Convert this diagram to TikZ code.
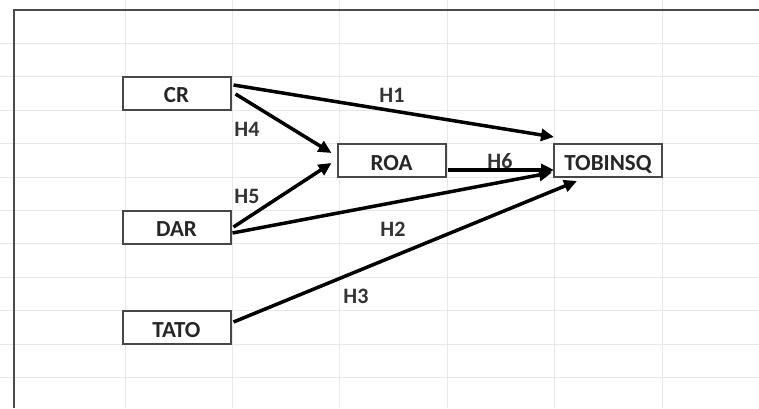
\documentclass[tikz,border=0pt]{standalone}
\usepackage{fontspec}
\setmainfont{Carlito}
\usetikzlibrary{arrows.meta}
\begin{document}
\begin{tikzpicture}[x=1pt,y=-1pt,
 box/.style={draw=black!72, line width=2pt, minimum width=108pt, minimum height=33pt, inner sep=0pt, text height=19pt, text depth=0pt, font=\fontsize{23}{23}\selectfont\bfseries, text=black!85, fill=white},
 hlabel/.style={font=\fontsize{22}{22}\selectfont\bfseries, text=black!80, inner sep=0pt},
 arr/.style={line width=3.5pt, draw=black, -{Triangle[length=13pt,width=12pt]}},
 gridline/.style={draw=black!9, line width=1pt},
 frameline/.style={draw=black!70, line width=2.5pt}]
\useasboundingbox (0,0) rectangle (759,408);
\fill[white] (0,0) rectangle (759,408);
% spreadsheet grid
\foreach \k in {1,...,11} {\draw[gridline] (0,{10+33.4*\k}) -- (759,{10+33.4*\k});}
\foreach \k in {0,...,5} {\draw[gridline] ({125+107.4*\k},0) -- ({125+107.4*\k},408);}
% frame
\draw[frameline] (14,408) -- (14,10) -- (759,10);
% boxes
\node[box] (cr) at (176.5,93) {CR};
\node[box] (roa) at (391.5,160.5) {ROA};
\node[box] (tob) at (608,160.5) {TOBINSQ};
\node[box] (dar) at (176.5,227) {DAR};
\node[box] (tato) at (176.5,327.5) {TATO};
% connectors
\draw[arr] ([shift={(2,-8)}]cr.east) -- ([shift={(1,-6)}]tob.north west);
\draw[arr] ([shift={(4,1)}]cr.east) -- ([shift={(-5,-7.5)}]roa.west);
\draw[arr] ([shift={(2,0)}]dar.east) -- ([shift={(-5,2.5)}]roa.west);
\draw[arr] ([shift={(1,6)}]dar.east) -- ([shift={(-1,12)}]tob.west);
\draw[arr] ([shift={(1,9.5)}]roa.east) -- ([shift={(1,9.5)}]tob.west);
\draw[arr] ([shift={(2,-5.5)}]tato.east) -- ([shift={(24,3)}]tob.south west);
% labels
\node[hlabel] (h1) at (392,95) {H1};
\node[hlabel] (h2) at (393,229) {H2};
\node[hlabel] (h3) at (356,296) {H3};
\node[hlabel] (h4) at (247,129) {H4};
\node[hlabel] (h5) at (247,196) {H5};
\node[hlabel] (h6) at (500,161) {H6};
\end{tikzpicture}
\end{document}
